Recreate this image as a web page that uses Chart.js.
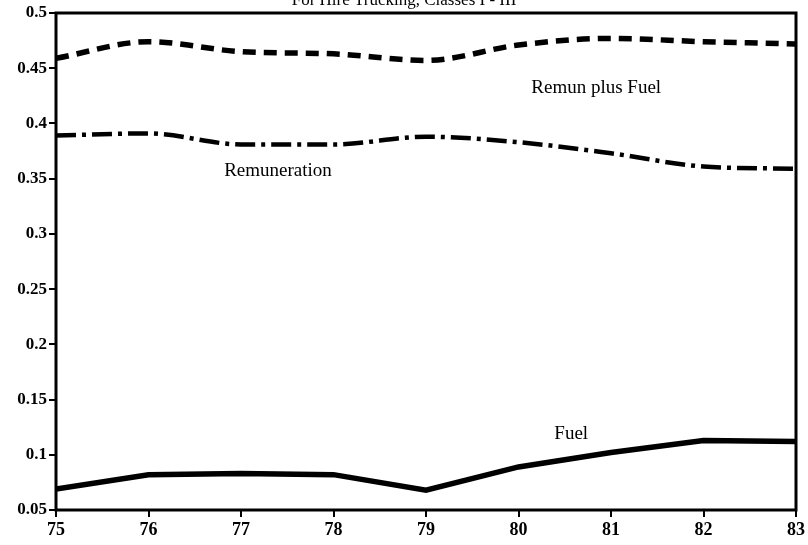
<!DOCTYPE html>
<html>
<head>
<meta charset="utf-8">
<script src="https://cdn.jsdelivr.net/npm/chart.js@4"></script>
<style>
    html, body { margin: 0; padding: 0; background: #fff; }
    #wrap { width: 808px; height: 545px; }
</style>
</head>
<body>
<div id="wrap"><canvas id="chart" width="808" height="545"></canvas></div>
<script>
// values
const years = [75, 76, 77, 78, 79, 80, 81, 82, 83];
const remunPlusFuel = [0.459, 0.474, 0.465, 0.463, 0.457, 0.471, 0.477, 0.474, 0.472];
const remuneration = [0.389, 0.391, 0.381, 0.381, 0.388, 0.383, 0.373, 0.361, 0.359];
const fuel = [0.069, 0.082, 0.083, 0.082, 0.068, 0.089, 0.102, 0.113, 0.112];
const yTicks = [0.05, 0.1, 0.15, 0.2, 0.25, 0.3, 0.35, 0.4, 0.45, 0.5];

const serif = "'Liberation Serif', 'DejaVu Serif', serif";

const toPoints = vals => vals.map((v, i) => ({ x: years[i], y: v }));

// frame, title and in-plot labels
const decorations = {
    id: 'decorations',
    afterDraw(chart) {
        const ctx = chart.ctx;
        const a = chart.chartArea;
        const xs = chart.scales.x, ys = chart.scales.y;
        ctx.save();
        ctx.strokeStyle = '#000';
        ctx.lineWidth = 3;
        ctx.strokeRect(a.left, a.top, a.right - a.left, a.bottom - a.top);

        ctx.fillStyle = '#000';
        ctx.textAlign = 'center';
        ctx.textBaseline = 'alphabetic';
        ctx.font = `17px ${serif}`;
        ctx.fillText('For Hire Trucking, Classes I - III', 404, 5);

        ctx.font = `19px ${serif}`;
        ctx.fillText('Remun plus Fuel', xs.getPixelForValue(80.84), ys.getPixelForValue(0.4276));
        ctx.fillText('Remuneration', xs.getPixelForValue(77.4), ys.getPixelForValue(0.3525));
        ctx.fillText('Fuel', xs.getPixelForValue(80.57), ys.getPixelForValue(0.1145));
        ctx.restore();
    }
};

new Chart(document.getElementById('chart'), {
    type: 'line',
    data: {
        datasets: [
            {
                label: 'Remun plus Fuel',
                data: toPoints(remunPlusFuel),
                borderColor: '#000',
                borderWidth: 5.5,
                borderDash: [13, 8],
                pointRadius: 0,
                cubicInterpolationMode: 'monotone'
            },
            {
                label: 'Remuneration',
                data: toPoints(remuneration),
                borderColor: '#000',
                borderWidth: 4.5,
                borderDash: [20, 6, 4, 6],
                pointRadius: 0,
                cubicInterpolationMode: 'monotone'
            },
            {
                label: 'Fuel',
                data: toPoints(fuel),
                borderColor: '#000',
                borderWidth: 5.5,
                pointRadius: 0,
                tension: 0
            }
        ]
    },
    options: {
        responsive: false,
        animation: false,
        layout: { padding: { top: 13, right: 11, left: 0, bottom: 0 } },
        plugins: {
            legend: { display: false },
            title: { display: false },
            tooltip: { enabled: false }
        },
        scales: {
            x: {
                type: 'linear',
                min: years[0],
                max: years[years.length - 1],
                afterBuildTicks: scale => { scale.ticks = years.map(v => ({ value: v })); },
                grid: { drawOnChartArea: false, color: '#000', lineWidth: 2, tickLength: 7, tickWidth: 2 },
                border: { display: false },
                ticks: {
                    color: '#000',
                    font: { family: serif, size: 18, weight: 'bold' },
                    padding: 3,
                    maxRotation: 0,
                    callback: v => String(v)
                },
                afterFit: scale => { scale.height = 35; }
            },
            y: {
                min: 0.05,
                max: 0.5,
                afterBuildTicks: scale => { scale.ticks = yTicks.map(v => ({ value: v })); },
                grid: { drawOnChartArea: false, color: '#000', lineWidth: 2, tickLength: 7, tickWidth: 2 },
                border: { display: false },
                ticks: {
                    color: '#000',
                    font: { family: serif, size: 17, weight: 'bold' },
                    padding: 2,
                    callback: v => String(Number(v.toFixed(2)))
                },
                afterFit: scale => { scale.width = 56; }
            }
        }
    },
    plugins: [decorations]
});
</script>
</body>
</html>
